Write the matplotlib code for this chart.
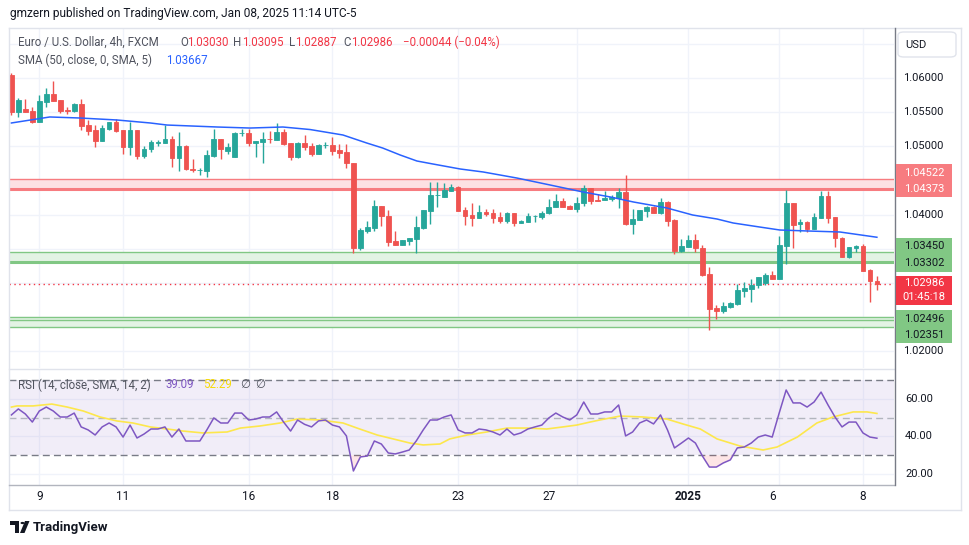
import matplotlib
matplotlib.use("Agg")
import matplotlib.pyplot as plt
import matplotlib.transforms as mtransforms
from matplotlib.patches import Rectangle, FancyBboxPatch, Polygon, Circle
from matplotlib.lines import Line2D
import numpy as np

# ---------------- data ----------------
day_labels = ['9', '11', '16', '18', '23', '27', '2025', '6', '8']
day_label_idx = [4, 16, 34, 46, 64, 77, 97, 109, 122]
day_grid_idx = [4, 16, 34, 46, 64, 81, 97, 110, 122]

opens = [1.06044, 1.05502, 1.05546, 1.05517, 1.05355, 1.05648, 1.05766, 1.05678, 1.05530, 1.05517,
         1.05619, 1.05311, 1.05238, 1.05077, 1.05253, 1.05355, 1.05238, 1.04989, 1.05238, 1.04857,
         1.04960, 1.05048, 1.05048, 1.05106, 1.04828, 1.05004, 1.04667, 1.04645, 1.04638, 1.04857,
         1.05106, 1.04930, 1.04843, 1.05194, 1.05194, 1.05048, 1.05062, 1.05106, 1.05092, 1.05209,
         1.05048, 1.04843, 1.05048, 1.05004, 1.04887, 1.05018, 1.05018, 1.04945, 1.04916, 1.04755,
         1.03510, 1.03759, 1.03803, 1.04125, 1.03978, 1.03612, 1.03553, 1.03612, 1.03641, 1.03803,
         1.04051, 1.04286, 1.04257, 1.04345, 1.04403, 1.04066, 1.03993, 1.03949, 1.04037, 1.04022,
         1.03963, 1.03905, 1.04022, 1.03876, 1.03891, 1.03978, 1.03963, 1.04022, 1.04110, 1.04198,
         1.04125, 1.04081, 1.04169, 1.04389, 1.04213, 1.04213, 1.04227, 1.04242, 1.04330, 1.03861,
         1.03920, 1.04052, 1.04110, 1.04022, 1.04184, 1.03920, 1.03465, 1.03524, 1.03627, 1.03510,
         1.03129, 1.02631, 1.02587, 1.02645, 1.02689, 1.02880, 1.02909, 1.02968, 1.02997, 1.03114,
         1.03055, 1.03539, 1.04169, 1.03861, 1.03890, 1.03788, 1.03949, 1.04271, 1.03963, 1.03656,
         1.03378, 1.03510, 1.03539, 1.03187, 1.03030]
highs = [1.06073, 1.05707, 1.05692, 1.05575, 1.05751, 1.05854, 1.05956, 1.05678, 1.05575, 1.05634,
         1.05692, 1.05385, 1.05311, 1.05311, 1.05355, 1.05400, 1.05238, 1.05355, 1.05238, 1.05004,
         1.05092, 1.05092, 1.05311, 1.05150, 1.05209, 1.05018, 1.04813, 1.04682, 1.04945, 1.05253,
         1.05106, 1.05048, 1.05209, 1.05253, 1.05253, 1.05077, 1.05209, 1.05223, 1.05341, 1.05253,
         1.05048, 1.05062, 1.05165, 1.05048, 1.05033, 1.05062, 1.05136, 1.05033, 1.05033, 1.04755,
         1.03803, 1.03905, 1.04213, 1.04125, 1.04066, 1.03759, 1.03627, 1.03656, 1.03978, 1.04066,
         1.04476, 1.04476, 1.04462, 1.04447, 1.04418, 1.04110, 1.04169, 1.04140, 1.04081, 1.04081,
         1.04037, 1.04037, 1.04022, 1.03920, 1.04022, 1.03993, 1.04052, 1.04227, 1.04301, 1.04242,
         1.04140, 1.04257, 1.04433, 1.04389, 1.04301, 1.04345, 1.04286, 1.04389, 1.04579, 1.04081,
         1.04066, 1.04125, 1.04125, 1.04242, 1.04198, 1.03934, 1.03641, 1.03700, 1.03715, 1.03553,
         1.03231, 1.02675, 1.02718, 1.02718, 1.02982, 1.03011, 1.03055, 1.03085, 1.03143, 1.03173,
         1.03685, 1.04359, 1.04169, 1.03934, 1.03905, 1.04022, 1.04345, 1.04345, 1.03963, 1.03671,
         1.03524, 1.03553, 1.03568, 1.03202, 1.03095]
lows = [1.05458, 1.05429, 1.05497, 1.05341, 1.05355, 1.05575, 1.05663, 1.05487, 1.05473, 1.05502,
        1.05238, 1.05165, 1.04989, 1.05077, 1.05238, 1.05209, 1.04887, 1.04872, 1.04813, 1.04828,
        1.04916, 1.05004, 1.05048, 1.04696, 1.04638, 1.04652, 1.04623, 1.04579, 1.04550, 1.04843,
        1.04813, 1.04887, 1.04843, 1.05150, 1.05004, 1.04843, 1.04755, 1.05048, 1.05092, 1.05018,
        1.04799, 1.04828, 1.04945, 1.04857, 1.04887, 1.04974, 1.04872, 1.04828, 1.04682, 1.03436,
        1.03480, 1.03729, 1.03759, 1.03832, 1.03539, 1.03553, 1.03553, 1.03553, 1.03436, 1.03788,
        1.03861, 1.04110, 1.04257, 1.04345, 1.04052, 1.03846, 1.03832, 1.03949, 1.03978, 1.03876,
        1.03876, 1.03876, 1.03832, 1.03876, 1.03891, 1.03891, 1.03934, 1.04008, 1.04110, 1.04110,
        1.04081, 1.04037, 1.04125, 1.04154, 1.04198, 1.04213, 1.04198, 1.04096, 1.03846, 1.03715,
        1.03920, 1.03963, 1.04022, 1.04008, 1.03832, 1.03422, 1.03451, 1.03524, 1.03451, 1.03099,
        1.02308, 1.02469, 1.02557, 1.02630, 1.02675, 1.02792, 1.02718, 1.02924, 1.02968, 1.03055,
        1.03055, 1.03275, 1.03510, 1.03744, 1.03744, 1.03788, 1.03949, 1.03876, 1.03524, 1.03378,
        1.03363, 1.03451, 1.03173, 1.02718, 1.02887]
closes = [1.05502, 1.05678, 1.05502, 1.05355, 1.05663, 1.05766, 1.05663, 1.05517, 1.05520, 1.05619,
          1.05297, 1.05223, 1.05077, 1.05267, 1.05355, 1.05223, 1.04989, 1.05238, 1.04857, 1.04960,
          1.05062, 1.05062, 1.05106, 1.04828, 1.05004, 1.04667, 1.04652, 1.04655, 1.04872, 1.05106,
          1.04960, 1.04989, 1.05194, 1.05200, 1.05048, 1.05077, 1.05106, 1.05100, 1.05209, 1.05033,
          1.04843, 1.05048, 1.04989, 1.04887, 1.05018, 1.05020, 1.04930, 1.04901, 1.04755, 1.03510,
          1.03773, 1.03817, 1.04125, 1.03978, 1.03597, 1.03553, 1.03627, 1.03656, 1.03817, 1.04066,
          1.04286, 1.04290, 1.04359, 1.04403, 1.04052, 1.03978, 1.03949, 1.04037, 1.04008, 1.03949,
          1.03905, 1.04022, 1.03876, 1.03905, 1.03978, 1.03982, 1.04022, 1.04110, 1.04198, 1.04110,
          1.04081, 1.04169, 1.04389, 1.04198, 1.04205, 1.04242, 1.04257, 1.04330, 1.03861, 1.03934,
          1.04066, 1.04110, 1.04022, 1.04184, 1.03905, 1.03465, 1.03539, 1.03627, 1.03510, 1.03114,
          1.02616, 1.02587, 1.02660, 1.02704, 1.02894, 1.02924, 1.02968, 1.03085, 1.03114, 1.03055,
          1.03553, 1.04169, 1.03846, 1.03890, 1.03788, 1.03964, 1.04271, 1.03949, 1.03656, 1.03378,
          1.03524, 1.03539, 1.03173, 1.03030, 1.02986]

sma_idx = [0, 5.5, 9.8, 15.1, 19.9, 22.3, 29.5, 34.2, 38.9, 42.8, 47.5, 50.9, 53.2, 55.7, 58.1, 60.4,
           64.3, 67.6, 72.4, 77.2, 81.9, 85.8, 89.1, 93.9, 97.6, 101.1, 103.4, 107.2, 110.1, 114.0,
           118.7, 124]
sma_val = [1.05341, 1.05429, 1.05414, 1.05385, 1.05341, 1.05311, 1.05282, 1.05267, 1.05282, 1.05245,
           1.05165, 1.05048, 1.04974, 1.04872, 1.04784, 1.04740, 1.04667, 1.04623, 1.04535, 1.04432,
           1.04330, 1.04257, 1.04184, 1.04096, 1.03993, 1.03934, 1.03876, 1.03817, 1.03773, 1.03759,
           1.03744, 1.03667]

rsi = [51.5, 54.7, 52.0, 47.7, 53.6, 55.7, 53.6, 50.4, 50.4, 52.5, 45.1, 43.5, 40.8, 45.1, 47.2,
       45.1, 39.7, 46.1, 39.2, 41.3, 44.0, 44.0, 45.1, 39.7, 44.0, 37.6, 37.6, 37.6, 43.5, 49.9,
       47.2, 47.2, 52.5, 52.5, 48.8, 49.3, 50.4, 50.4, 53.1, 47.7, 42.9, 48.8,
       46.5, 45.1, 48.3, 48.8, 46.1, 45.1, 40.3, 21.6, 29.1, 29.6, 37.6, 36.0, 31.2, 30.7, 31.7,
       32.8, 37.6, 43.5, 48.8, 48.8, 50.4, 51.5, 43.5, 41.9, 41.9, 44.0, 43.5, 42.4, 40.8, 44.0,
       40.8, 41.9, 44.0, 45.1, 46.1, 49.9, 52.5, 50.4, 48.8, 51.5, 58.4, 52.0, 52.0,
       53.1, 53.1, 56.8, 40.3, 42.4, 47.2, 48.8, 46.7, 51.5, 43.5, 33.9, 36.5, 39.2, 36.5, 29.6,
       23.7, 23.7, 25.9, 27.5, 33.9, 34.4, 36.5, 39.7, 40.8, 39.7, 52.5, 64.8, 57.9, 57.9, 55.7,
       58.4, 63.7, 56.8, 50.4, 45.1, 47.7, 47.7, 41.9, 39.7, 39.09]
rsi_ma_idx = [0, 0.8, 3.1, 5.8, 8.0, 10.3, 12.7, 15.1, 17.4, 19.9, 22.3, 24.6, 27.4, 30.9, 32.8, 35.6,
              38.5, 40.9, 44.2, 47.5, 49.9, 52.4, 54.7, 57.1, 59.0, 61.4, 62.8, 65.3, 68.1, 71.0,
              73.9, 76.7, 79.0, 81.0, 82.9, 84.3, 87.2, 90.5, 93.9, 96.2, 98.7, 101.1, 104.4,
              107.7, 109.7, 112.6, 115.4, 117.7, 120.6, 122.6, 124.0]
rsi_ma_val = [55.7, 56.3, 56.3, 57.3, 55.7, 53.6, 50.4, 48.3, 47.2, 45.1, 44.0, 42.9, 41.9, 42.4,
              44.5, 45.6, 47.2, 49.3, 48.8, 47.2, 44.0, 40.8, 38.7, 36.5, 35.5, 36.0, 38.7, 40.8,
              42.4, 44.5, 44.5, 44.0, 45.1, 46.1, 47.7, 48.8, 50.9, 50.4, 49.3, 46.7, 44.0, 38.7,
              34.9, 32.8, 34.4, 39.7, 47.2, 50.4, 53.1, 53.1, 52.29]

red_zone = [1.04373, 1.04522]
green_zone_1 = [1.03302, 1.03450]
green_zone_2 = [1.02351, 1.02496]
green_zone_2_inner = 1.02450
countdown = '01:45:18'
price_grid = [1.020, 1.025, 1.030, 1.035, 1.040, 1.045, 1.050, 1.055, 1.060, 1.065]
price_labels_shown = [1.060, 1.055, 1.050, 1.040, 1.020]
rsi_labels = [20, 40, 60]
rsi_levels = [30, 50, 70]

# ---------------- style ----------------
plt.rcParams['font.family'] = ['Roboto', 'DejaVu Sans']
UP, DOWN = '#26A69A', '#EF5350'
GRID = '#F0F3FA'
TXT = '#131722'
GRAYTXT = '#50535E'
W, H = 970, 545

def fx(px):
    return px / W

def fy(py):
    return 1 - py / H

fig = plt.figure(figsize=(W / 100, H / 100), dpi=100)
fig.patch.set_facecolor('white')

PX_L, PX_R = 9.5, 894
ax = fig.add_axes([fx(PX_L), fy(368), fx(PX_R) - fx(PX_L), fy(28) - fy(368)])
axr = fig.add_axes([fx(PX_L), fy(485), fx(PX_R) - fx(PX_L), fy(369) - fy(485)])

for a in (ax, axr):
    for s in a.spines.values():
        s.set_visible(False)
    a.tick_params(length=0, labelbottom=False, labelleft=False)
    a.set_xlim(-0.27, 126.45)
    a.set_xticks(day_grid_idx)
    a.grid(True, color=GRID, lw=1, zorder=0)
    a.set_axisbelow(True)
    a.set_facecolor('none')

ax.set_ylim(1.017515, 1.067325)
ax.set_yticks(price_grid)
axr.set_ylim(14.13, 76.0)
axr.set_yticks(rsi_labels)

# ---------------- price pane ----------------
o = np.array(opens); h = np.array(highs); l = np.array(lows); c = np.array(closes)
x = np.arange(len(o))
cols = np.where(c >= o, UP, DOWN)

ax.axhspan(red_zone[0], red_zone[1], color='#FDE1E3', lw=0, zorder=1)
ax.axhline(red_zone[1], color='#F77C80', lw=1.0, zorder=1.5)
ax.axhline(red_zone[0], color='#F77C80', lw=2.2, zorder=1.5)
ax.axhspan(green_zone_1[0], green_zone_1[1], color='#E3F3E4', lw=0, zorder=1)
ax.axhline(green_zone_1[1], color='#81C784', lw=1.0, zorder=1.5)
ax.axhline(green_zone_1[0], color='#81C784', lw=2.2, zorder=1.5)
ax.axhspan(green_zone_2[0], green_zone_2[1], color='#E3F3E4', lw=0, zorder=1)
ax.axhline(green_zone_2[1], color='#81C784', lw=1.0, zorder=1.5)
ax.axhline(green_zone_2_inner, color='#81C784', lw=1.0, zorder=1.5)
ax.axhline(green_zone_2[0], color='#81C784', lw=1.0, zorder=1.5)

ax.vlines(x, l, h, colors=cols, lw=1.0, zorder=3)
ax.bar(x, np.abs(c - o), bottom=np.minimum(o, c), width=0.68, color=cols,
       edgecolor=cols, linewidth=0.6, zorder=3)

ax.plot(sma_idx, sma_val, color='#2962FF', lw=1.1, zorder=4)
ax.axhline(c[-1], color='#F23645', lw=1.0, ls=(0, (1, 2.5)), zorder=2)

# legend texts
ly1, ly2 = 42, 60
fs = 8.3
fig.text(fx(18), fy(ly1), 'Euro / U.S. Dollar, 4h, FXCM', color=GRAYTXT, fontsize=fs, va='center')
chg = c[-1] - c[-2]
pct = chg / c[-2] * 100
pieces = [(180, 'O', GRAYTXT), (187, f'{o[-1]:.5f}', '#F23645'),
          (233, 'H', GRAYTXT), (242, f'{h[-1]:.5f}', '#F23645'),
          (289, 'L', GRAYTXT), (295, f'{l[-1]:.5f}', '#F23645'),
          (343, 'C', GRAYTXT), (351, f'{c[-1]:.5f}', '#F23645'),
          (403, f'\u2212{abs(chg):.5f} (\u2212{abs(pct):.2f}%)', '#F23645')]
for px, s, col in pieces:
    fig.text(fx(px), fy(ly1), s, color=col, fontsize=fs, va='center')
fig.text(fx(18), fy(ly2), 'SMA (50, close, 0, SMA, 5)', color=GRAYTXT, fontsize=fs, va='center')
fig.text(fx(166), fy(ly2), f'{sma_val[-1]:.5f}', color='#2962FF', fontsize=fs, va='center')

# ---------------- RSI pane ----------------
r = np.array(rsi)
axr.axhspan(rsi_levels[0], rsi_levels[2], color='#7E57C2', alpha=0.10, lw=0, zorder=1)
axr.axhline(rsi_levels[2], color='#787B86', lw=1.0, ls=(0, (5, 3)), zorder=2)
axr.axhline(rsi_levels[1], color='#B2B5BE', lw=1.0, ls=(0, (5, 3)), zorder=2)
axr.axhline(rsi_levels[0], color='#787B86', lw=1.0, ls=(0, (5, 3)), zorder=2)
axr.fill_between(x, r, rsi_levels[0], where=r < rsi_levels[0], interpolate=True,
                 color='#F23645', alpha=0.13, lw=0, zorder=2)
axr.plot(rsi_ma_idx, rsi_ma_val, color='#FDE74C', lw=1.2, zorder=3)
axr.plot(x, r, color='#7E57C2', lw=1.1, zorder=4)

ry = 385
fig.text(fx(18), fy(ry), 'RSI (14, close, SMA, 14, 2)', color=GRAYTXT, fontsize=fs, va='center')
fig.text(fx(166), fy(ry), f'{rsi[-1]:.2f}', color='#7E57C2', fontsize=fs, va='center')
fig.text(fx(203), fy(ry), f'{rsi_ma_val[-1]:.2f}', color='#F5D90A', fontsize=fs, va='center')
fig.text(fx(240), fy(ry), '\u2205', color=GRAYTXT, fontsize=fs, va='center',
         family=['DejaVu Sans'])
fig.text(fx(255), fy(ry), '\u2205', color=GRAYTXT, fontsize=fs, va='center',
         family=['DejaVu Sans'])

# ---------------- axes labels ----------------
tr_price = mtransforms.blended_transform_factory(fig.transFigure, ax.transData)
for p in price_labels_shown:
    fig.text(fx(923), p, f'{p:.5f}', transform=tr_price, color=TXT, fontsize=8,
             ha='center', va='center')
tr_rsi = mtransforms.blended_transform_factory(fig.transFigure, axr.transData)
for v in rsi_labels:
    fig.text(fx(919), v, f'{v:.2f}', transform=tr_rsi, color=TXT, fontsize=8,
             ha='center', va='center')

tr_time = mtransforms.blended_transform_factory(axr.transData, fig.transFigure)
for i, lab in zip(day_label_idx, day_labels):
    fig.text(i, fy(496), lab, transform=tr_time, color=TXT, fontsize=8.5,
             ha='center', va='center', fontweight='bold' if lab == '2025' else 'normal')

# colored price boxes
def box(y0, y1, color):
    fig.add_artist(Rectangle((fx(896), fy(y1)), fx(952) - fx(896), fy(y0) - fy(y1),
                             transform=fig.transFigure, color=color, lw=0, zorder=5))

box(164, 197, '#F77C80')
fig.text(fx(924), fy(173), f'{red_zone[1]:.5f}', color='white', fontsize=8, ha='center', va='center', zorder=6)
fig.text(fx(924), fy(189), f'{red_zone[0]:.5f}', color='white', fontsize=8, ha='center', va='center', zorder=6)
box(238, 272, '#81C784')
fig.text(fx(924), fy(246), f'{green_zone_1[1]:.5f}', color=TXT, fontsize=8, ha='center', va='center', zorder=6)
fig.text(fx(924), fy(263), f'{green_zone_1[0]:.5f}', color=TXT, fontsize=8, ha='center', va='center', zorder=6)
box(276, 305, '#F23645')
fig.text(fx(924), fy(283), f'{c[-1]:.5f}', color='white', fontsize=8, ha='center', va='center', zorder=6)
fig.text(fx(924), fy(297), countdown, color='white', fontsize=8, ha='center', va='center', zorder=6)
box(310, 343, '#81C784')
fig.text(fx(924), fy(319), f'{green_zone_2[1]:.5f}', color=TXT, fontsize=8, ha='center', va='center', zorder=6)
fig.text(fx(924), fy(335), f'{green_zone_2[0]:.5f}', color=TXT, fontsize=8, ha='center', va='center', zorder=6)

# USD box
fig.add_artist(FancyBboxPatch((fx(898), fy(57)), fx(956) - fx(898), fy(32) - fy(57),
                              boxstyle='round,pad=0,rounding_size=0.006',
                              transform=fig.transFigure, facecolor='white',
                              edgecolor='#E0E3EB', lw=1))
fig.text(fx(905), fy(45), 'USD', color=TXT, fontsize=8, va='center')

# ---------------- frame ----------------
def hline(y, x0, x1, color, lw=1):
    fig.add_artist(Line2D([fx(x0), fx(x1)], [fy(y), fy(y)], color=color, lw=lw))

def vline(xp, y0, y1, color, lw=1):
    fig.add_artist(Line2D([fx(xp), fx(xp)], [fy(y0), fy(y1)], color=color, lw=lw))

FRAME = '#E0E3EB'
hline(27.5, 9, 961, FRAME)
hline(510, 9, 961, FRAME)
vline(9, 27.5, 510, FRAME)
vline(961, 27.5, 510, FRAME)
hline(368.5, 9, 894, FRAME)
hline(485, 9, 894, '#B2B5BE')
vline(894.5, 27.5, 485, '#787B86')

# header
fig.text(fx(10), fy(14), 'gmzern published on TradingView.com, Jan 08, 2025 11:14 UTC-5',
         color=TXT, fontsize=8.6, va='center')

# TradingView logo
logo_col = '#131722'
fig.add_artist(Polygon([(fx(10), fy(521)), (fx(19), fy(521)), (fx(19), fy(533)),
                        (fx(15.5), fy(533)), (fx(15.5), fy(525)), (fx(10), fy(525))],
                       closed=True, transform=fig.transFigure, color=logo_col, lw=0))
fig.add_artist(Circle((fx(22.5), fy(523)), 2.0 / W, transform=fig.transFigure,
                      color=logo_col, lw=0))
fig.add_artist(Polygon([(fx(20), fy(533)), (fx(25), fy(521)), (fx(29.5), fy(521)),
                        (fx(24.5), fy(533))],
                       closed=True, transform=fig.transFigure, color=logo_col, lw=0))
fig.text(fx(33), fy(527), 'TradingView', color=logo_col, fontsize=9.5, fontweight='bold',
         va='center')

fig.savefig('out.png', dpi=100, facecolor='white')
